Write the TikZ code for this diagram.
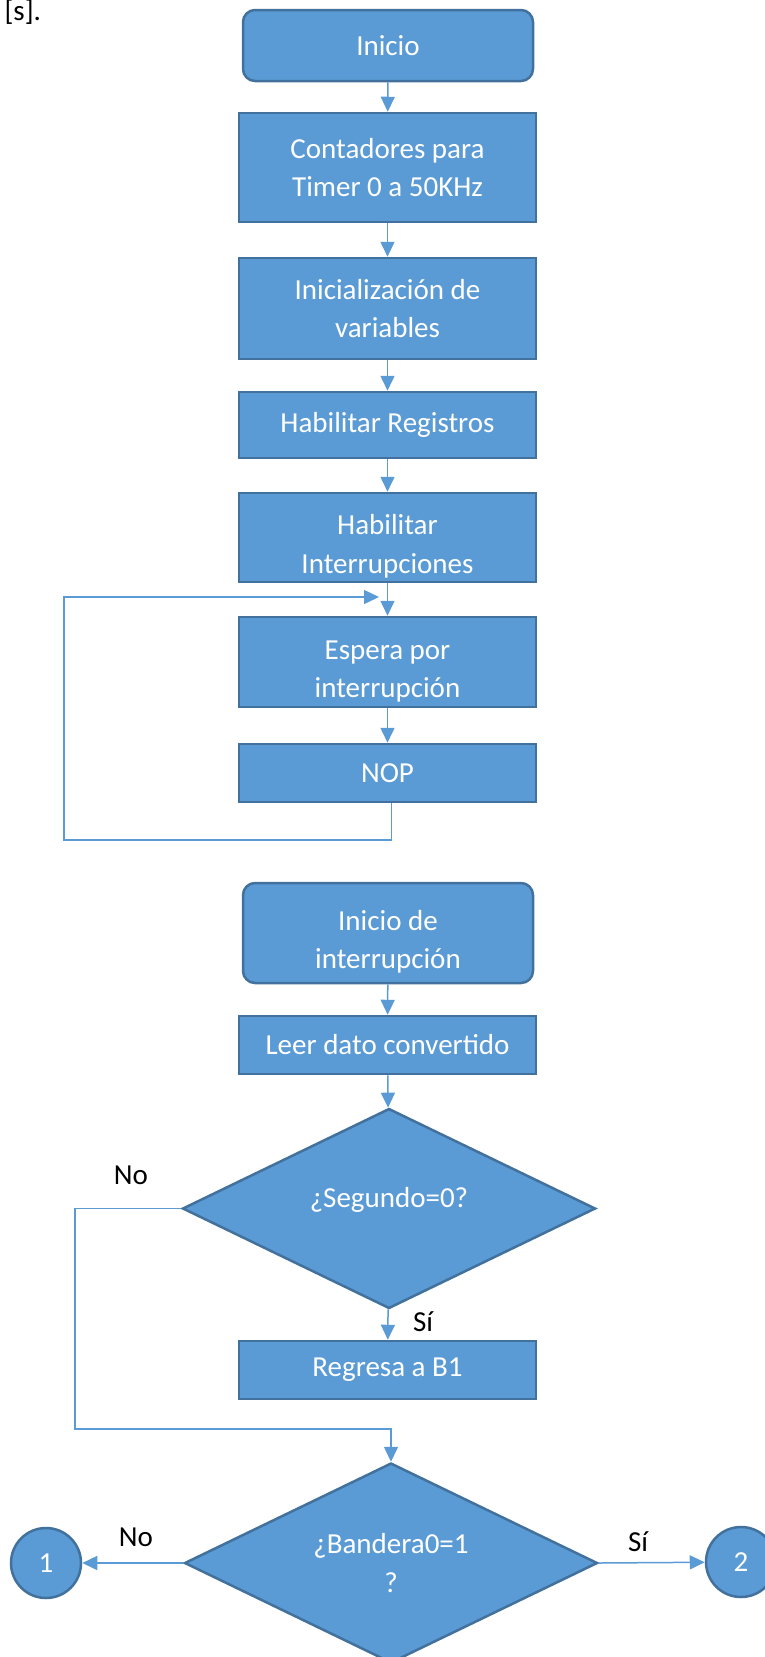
\documentclass[tikz,border=0pt]{standalone}
\usepackage{fontspec}
\setmainfont{Carlito}
\usetikzlibrary{shapes.geometric, arrows.meta}

\definecolor{azul}{HTML}{5B9BD5}
\definecolor{borde}{HTML}{41719C}

% puntal para bajar el texto de dos lineas
\newcommand{\bajar}{\rule{0pt}{38pt}}

\begin{document}
\begin{tikzpicture}[x = 1pt, y = -1pt,
  font = \fontsize{29}{38.5}\selectfont,
  bloque/.style = {draw = borde, line width = 2.5pt, fill = azul, text = white,
    align = center, inner sep = 0pt, minimum width = 297pt},
  terminal/.style = {bloque, rounded corners = 12pt, minimum width = 290pt},
  decision/.style = {diamond, aspect = 2, draw = borde, line width = 2.5pt,
    fill = azul, text = white, align = center, inner sep = 0pt,
    minimum width = 413pt, minimum height = 200pt},
  conector/.style = {draw = azul, line width = 1.5pt,
    -{Triangle[length = 15pt, width = 14pt]}},
  linea/.style = {draw = azul, line width = 1.5pt}]
\useasboundingbox (0,0) rectangle (764,1657);

\node[anchor = base west] (cita) at (1,20) {[s].};

% programa principal
\node[terminal, minimum height = 71pt] (inicio) at (388,45.5) {Inicio};
\node[bloque, minimum height = 109pt] (contadores) at (387.5,167.5) {Contadores para\\Timer 0 a 50KHz};
\node[bloque, minimum height = 101pt] (variables) at (387.5,308.5) {Inicialización de\\variables};
\node[bloque, minimum height = 66pt] (registros) at (387.5,425) {Habilitar Registros};
\node[bloque, minimum height = 89pt] (habint) at (387.5,537.5) {\bajar Habilitar\\Interrupciones};
\node[bloque, minimum height = 90pt] (espera) at (387.5,662) {\bajar Espera por\\interrupción};
\node[bloque, minimum height = 58pt] (nop) at (387.5,773) {NOP};

\draw[conector] (inicio) -- (contadores);
\draw[conector] (contadores) -- (variables);
\draw[conector] (variables) -- (registros);
\draw[conector] (registros) -- (habint);
\draw[conector] (habint) -- (espera);
\draw[conector] (espera) -- (nop);

% ciclo de espera
\coordinate (bucle) at (64,840);
\coordinate (retorno) at (379,597);
\draw[conector] ([xshift = 4pt]nop.south) |- (bucle) |- (retorno);

% rutina de interrupcion
\node[terminal, minimum height = 100pt] (inicioint) at (388,933) {\bajar Inicio de\\interrupción};
\node[bloque, minimum height = 58pt] (leer) at (387.5,1045) {Leer dato convertido};
\node[decision, text depth = 22pt] (segundo) at (389,1208.5) {¿Segundo=0?};
\node[bloque, minimum height = 58pt] (regresa) at (387.5,1370) {Regresa a B1};
\node[decision] (bandera) at (391,1563) {¿Bandera0=1\\?};
\node[circle, draw = borde, line width = 2.5pt, fill = azul, text = white,
  minimum size = 70pt, inner sep = 0pt] (uno) at (46,1563) {1};
\node[circle, draw = borde, line width = 2.5pt, fill = azul, text = white,
  minimum size = 70pt, inner sep = 0pt] (dos) at (741,1562) {2};

\draw[conector] (inicioint) -- (leer);
\draw[conector] (leer) -- (segundo);
\draw[conector] (segundo) -- (regresa);

\coordinate (esquina) at (75,1429);
\draw[conector] (segundo.west) -| (esquina) -| (bandera.north);
\draw[conector] (bandera.west) -- (uno);
\draw[conector] (bandera.east) -- (dos);

\node (no1) at (131,1175) {No};
\node (si1) at (423,1322) {Sí};
\node (no2) at (136,1537) {No};
\node (si2) at (638,1542) {Sí};

\end{tikzpicture}
\end{document}
